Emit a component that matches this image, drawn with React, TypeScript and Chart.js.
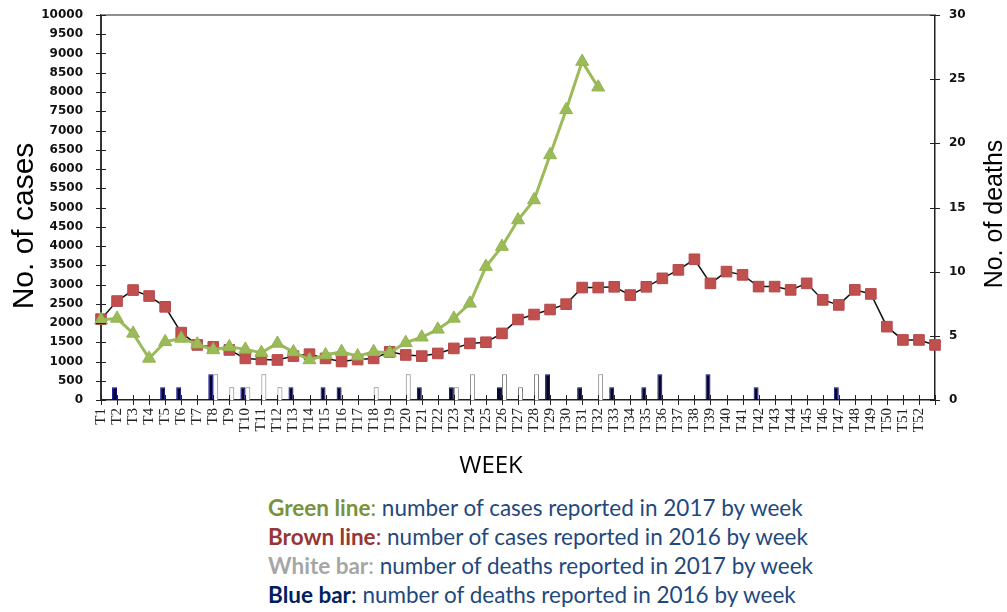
import React, { useEffect, useRef } from "react";
import { Chart, registerables } from "chart.js";

Chart.register(...registerables);

const weeks: string[] = [
  "T1","T2","T3","T4","T5","T6","T7","T8","T9","T10","T11","T12","T13","T14","T15","T16","T17","T18","T19","T20",
  "T21","T22","T23","T24","T25","T26","T27","T28","T29","T30","T31","T32","T33","T34","T35","T36","T37","T38","T39","T40",
  "T41","T42","T43","T44","T45","T46","T47","T48","T49","T50","T51","T52","",
];

const cases2016: number[] = [
  2100, 2570, 2855, 2700, 2420, 1750, 1430, 1380, 1300, 1080,
  1055, 1040, 1140, 1190, 1080, 1000, 1050, 1080, 1250, 1170,
  1140, 1210, 1340, 1470, 1500, 1730, 2090, 2220, 2350, 2490,
  2920, 2920, 2940, 2725, 2940, 3160, 3380, 3655, 3030, 3335,
  3250, 2945, 2945, 2860, 3030, 2600, 2470, 2860, 2755, 1905,
  1560, 1560, 1430,
];

const cases2017: number[] = [
  2080, 2120, 1730, 1080, 1510, 1600, 1450, 1300, 1380, 1315,
  1230, 1470, 1250, 1040, 1170, 1255, 1140, 1255, 1230, 1490,
  1630, 1835, 2120, 2510, 3465, 3985, 4675, 5195, 6365, 7535,
  8790, 8125,
];

const deaths2016: number[] = [
  1, 1, 0, 0, 1, 1, 0, 2, 0, 1,
  0, 0, 1, 0, 1, 1, 0, 0, 0, 0,
  1, 0, 1, 0, 0, 1, 0, 0, 2, 0,
  1, 0, 1, 0, 1, 2, 0, 0, 2, 0,
  0, 1, 0, 0, 0, 0, 1, 0, 0, 0,
  0, 0, 0,
];

const deaths2017: number[] = [
  0, 0, 0, 0, 0, 0, 0, 2, 1, 1,
  2, 1, 0, 0, 0, 0, 0, 1, 0, 2,
  0, 0, 1, 2, 0, 2, 1, 2, 0, 0,
  0, 2,
];

const casesTicks = { min: 0, max: 10000, step: 500 };
const deathsTicks = { min: 0, max: 30, step: 5 };

const decorPlugin = {
  id: "decor",
  afterDraw(chart: any) {
    const { ctx, chartArea: ca, scales } = chart;
    ctx.save();
    // top frame line
    ctx.strokeStyle = "#8f8f8f";
    ctx.lineWidth = 2;
    ctx.beginPath();
    ctx.moveTo(ca.left, ca.top);
    ctx.lineTo(ca.right, ca.top);
    ctx.stroke();
    // crossing tick marks
    ctx.strokeStyle = "#222";
    ctx.lineWidth = 1;
    const seg = (x1: number, y1: number, x2: number, y2: number) => {
      ctx.beginPath();
      ctx.moveTo(x1, y1);
      ctx.lineTo(x2, y2);
      ctx.stroke();
    };
    const ys = scales.y;
    ys.ticks.forEach((_t: any, i: number) => {
      const p = Math.round(ys.getPixelForTick(i)) + 0.5;
      seg(ca.left - 5, p, ca.left + 5, p);
    });
    const y2 = scales.y2;
    y2.ticks.forEach((_t: any, i: number) => {
      const p = Math.round(y2.getPixelForTick(i)) + 0.5;
      seg(ca.right - 5, p, ca.right + 5, p);
    });
    const xs = scales.x;
    xs.ticks.forEach((_t: any, i: number) => {
      const p = Math.round(xs.getPixelForTick(i)) + 0.5;
      seg(p, ca.bottom - 5, p, ca.bottom + 5);
    });
    // axis titles
    ctx.fillStyle = "#000";
    ctx.textAlign = "center";
    ctx.textBaseline = "alphabetic";
    ctx.save();
    ctx.translate(33, 226);
    ctx.rotate(-Math.PI / 2);
    ctx.font = "30px 'Liberation Sans', Arial, sans-serif";
    ctx.fillText("No. of cases", 0, 0);
    ctx.restore();
    ctx.save();
    ctx.translate(1002, 214);
    ctx.rotate(-Math.PI / 2);
    ctx.font = "25px 'Liberation Sans', Arial, sans-serif";
    ctx.fillText("No. of deaths", 0, 0);
    ctx.restore();
    ctx.font = "24px 'Open Sans', sans-serif";
    ctx.fillText("WEEK", 491, 473);
    ctx.restore();
  },
};

const noPadY = (w: number) => (s: any) => {
  s.width = w;
  s.paddingTop = 0;
  s.paddingBottom = 0;
};

function ChartCanvas() {
  const ref = useRef<HTMLCanvasElement | null>(null);
  useEffect(() => {
    if (!ref.current) return;
    const chart = new Chart(ref.current, {
      type: "bar",
      data: {
        labels: weeks,
        datasets: [
          {
            type: "line",
            label: "Cases 2017",
            data: cases2017,
            yAxisID: "y",
            borderColor: "#9bbb59",
            borderWidth: 3,
            pointStyle: "triangle",
            pointRadius: 7.5,
            pointBackgroundColor: "#9bbb59",
            pointBorderColor: "#93b452",
            pointBorderWidth: 1,
            tension: 0,
            clip: false,
            order: 1,
          } as any,
          {
            type: "line",
            label: "Cases 2016",
            data: cases2016,
            yAxisID: "y",
            borderColor: "#111",
            borderWidth: 1.5,
            pointStyle: "rect",
            pointRadius: 7.5,
            pointBackgroundColor: "#c0504d",
            pointBorderColor: "#b5484a",
            pointBorderWidth: 1,
            tension: 0,
            clip: false,
            order: 2,
          } as any,
          {
            type: "bar",
            label: "Deaths 2016",
            data: deaths2016,
            yAxisID: "y2",
            backgroundColor: "#05052e",
            borderColor: "#00008a",
            borderWidth: 1,
            categoryPercentage: 0.62,
            barPercentage: 1,
            order: 3,
          } as any,
          {
            type: "bar",
            label: "Deaths 2017",
            data: deaths2017,
            yAxisID: "y2",
            backgroundColor: "#ffffff",
            borderColor: "#7a7a7a",
            borderWidth: 1,
            categoryPercentage: 0.62,
            barPercentage: 1,
            order: 3,
          } as any,
        ],
      },
      options: {
        animation: false,
        responsive: false,
        layout: { padding: { top: 15, left: 0, right: 0, bottom: 0 } },
        plugins: { legend: { display: false }, tooltip: { enabled: false } },
        scales: {
          x: {
            offset: false,
            grid: { display: false, drawTicks: false },
            border: { display: true, color: "#222", width: 1.5 },
            ticks: {
              autoSkip: false,
              minRotation: 90,
              maxRotation: 90,
              padding: 8,
              color: "#222",
              font: { family: "'Liberation Serif', 'Times New Roman', serif", size: 15 },
            },
            afterFit: (s: any) => {
              s.height = 85;
              s.paddingLeft = 0;
              s.paddingRight = 0;
            },
          },
          y: {
            position: "left",
            min: casesTicks.min,
            max: casesTicks.max,
            grid: { display: false, drawTicks: false },
            border: { display: true, color: "#333", width: 2 },
            ticks: {
              stepSize: casesTicks.step,
              padding: 18,
              color: "#111",
              font: { family: "'DejaVu Sans', sans-serif", size: 12, weight: "bold" },
              callback: (v: any) => String(v),
            },
            afterFit: noPadY(101),
          },
          y2: {
            position: "right",
            min: deathsTicks.min,
            max: deathsTicks.max,
            grid: { display: false, drawTicks: false },
            border: { display: true, color: "#222", width: 1.5 },
            ticks: {
              stepSize: deathsTicks.step,
              padding: 14,
              color: "#111",
              font: { family: "'DejaVu Sans', sans-serif", size: 12, weight: "bold" },
              callback: (v: any) => String(v),
            },
            afterFit: noPadY(72),
          },
        },
      },
      plugins: [decorPlugin],
    });
    return () => chart.destroy();
  }, []);
  return <canvas ref={ref} width={1007} height={485} style={{ display: "block" }} />;
}

const legendRows = [
  { label: "Green line", color: "#77933c", text: " number of cases reported in 2017 by week" },
  { label: "Brown line", color: "#953735", text: " number of cases reported in 2016 by week" },
  { label: "White bar", color: "#a6a6a6", text: " number of deaths reported in 2017 by week" },
  { label: "Blue bar", color: "#002060", text: " number of deaths reported in 2016 by week" },
];

export default function App() {
  return (
    <div style={{ position: "absolute", left: 0, top: 0, width: 1007, height: 612, background: "#fff", overflow: "hidden" }}>
      <ChartCanvas />
      <div
        style={{
          position: "absolute",
          left: 268,
          top: 493,
          fontFamily: "Lato, 'Open Sans', sans-serif",
          fontSize: 22.5,
          lineHeight: "29px",
          color: "#1f497d",
          whiteSpace: "nowrap",
        }}
      >
        {legendRows.map((r) => (
          <div key={r.label}>
            <span style={{ color: r.color, fontWeight: "bold" }}>{r.label}</span>
            <span style={{ color: r.color }}>:</span>
            {r.text}
          </div>
        ))}
      </div>
    </div>
  );
}
